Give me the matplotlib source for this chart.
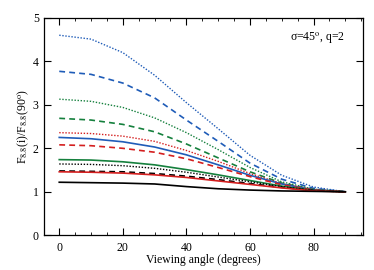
import matplotlib
matplotlib.use('Agg')
import matplotlib.pyplot as plt
from matplotlib.ticker import MultipleLocator

plt.rcParams['font.family'] = ['Liberation Serif', 'DejaVu Serif']
plt.rcParams['mathtext.fontset'] = 'stix'

angle = [0, 10, 20, 30, 40, 50, 60, 70, 80, 90]

blue_dot = [4.60, 4.51, 4.20, 3.68, 3.05, 2.45, 1.84, 1.38, 1.11, 1.0]
blue_dash = [3.77, 3.70, 3.50, 3.16, 2.65, 2.16, 1.66, 1.29, 1.08, 1.0]
green_dot = [3.13, 3.08, 2.94, 2.70, 2.36, 1.97, 1.56, 1.23, 1.06, 1.0]
green_dash = [2.69, 2.65, 2.55, 2.38, 2.10, 1.78, 1.46, 1.20, 1.05, 1.0]
red_dot = [2.36, 2.34, 2.28, 2.16, 1.95, 1.70, 1.42, 1.19, 1.05, 1.0]
blue_solid = [2.25, 2.22, 2.15, 2.03, 1.85, 1.62, 1.38, 1.18, 1.04, 1.0]
red_dash = [2.08, 2.06, 2.00, 1.91, 1.76, 1.56, 1.35, 1.16, 1.04, 1.0]
green_solid = [1.74, 1.73, 1.69, 1.62, 1.51, 1.39, 1.26, 1.13, 1.03, 1.0]
black_dot = [1.64, 1.63, 1.60, 1.54, 1.45, 1.34, 1.23, 1.12, 1.03, 1.0]
black_dash = [1.48, 1.47, 1.46, 1.42, 1.36, 1.28, 1.19, 1.10, 1.03, 1.0]
red_solid = [1.46, 1.45, 1.43, 1.39, 1.33, 1.25, 1.17, 1.09, 1.02, 1.0]
black_solid = [1.22, 1.21, 1.20, 1.18, 1.12, 1.07, 1.04, 1.02, 1.01, 1.0]

blue = '#1f5cb8'
green = '#15803d'
red = '#d41f1f'

fig = plt.figure(figsize=(3.74, 2.70), dpi=100)
ax = fig.add_axes([0.1185, 0.1285, 0.8515, 0.8055])

dot = (0, (1, 1.2))
dash = (0, (3.5, 2.5))
series = [
    (blue_dot, blue, dot, 1.0),
    (blue_dash, blue, dash, 1.2),
    (green_dot, green, dot, 1.0),
    (green_dash, green, dash, 1.2),
    (red_dot, red, dot, 1.0),
    (blue_solid, blue, '-', 1.2),
    (red_dash, red, dash, 1.2),
    (green_solid, green, '-', 1.2),
    (black_dot, 'black', dot, 1.0),
    (black_dash, 'black', dash, 1.2),
    (red_solid, red, '-', 1.2),
    (black_solid, 'black', '-', 1.2),
]
for vals, c, ls, lw in series:
    ax.plot(angle, vals, color=c, linestyle=ls, linewidth=lw)

ax.set_xlim(-4.7, 95.5)
ax.set_ylim(0, 5)
ax.xaxis.set_major_locator(MultipleLocator(20))
ax.xaxis.set_minor_locator(MultipleLocator(5))
ax.yaxis.set_major_locator(MultipleLocator(1))
ax.tick_params(which='both', direction='in', top=True, right=True, labelsize=8.5)
ax.tick_params(which='major', length=5, width=0.8)
ax.tick_params(which='minor', length=2.5, width=0.6)
ax.tick_params(axis='y', pad=4)
ax.tick_params(axis='x', pad=5)
for s in ax.spines.values():
    s.set_linewidth(0.9)

ax.set_xlabel('Viewing angle (degrees)', fontsize=8.5, labelpad=0)
ax.set_ylabel(r'F$_{8.8}$(i)/F$_{8.8}$(90$^{\rm o}$)', fontsize=8.5, labelpad=1)
ax.text(90, 4.53, 'σ=45$^{\\rm o}$, q=2', ha='right', va='center', fontsize=8.5)

fig.savefig('out.png', dpi=100)
